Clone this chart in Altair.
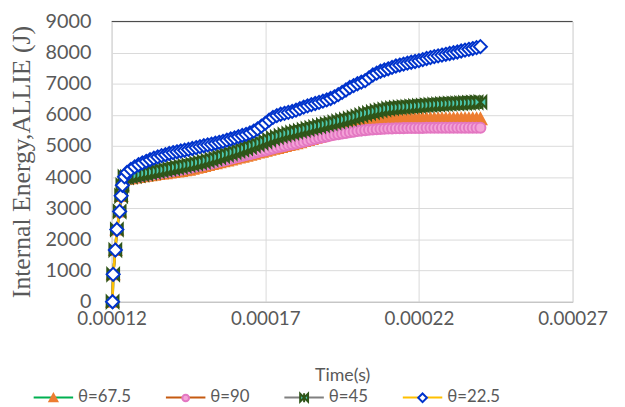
import altair as alt
import pandas as pd

series_names = ["θ=67.5", "θ=90", "θ=45", "θ=22.5"]

# time in microseconds
rise_time_us = [120.3, 120.5, 121.2, 121.7, 122.6, 123.1, 123.5, 124.2]
rise_energy = [0, 880, 1660, 2320, 2900, 3400, 3740, 4010]

grid_time_us = [
    125.0, 126.25, 127.5, 128.75, 130.0, 131.25, 132.5, 133.75,
    135.0, 136.25, 137.5, 138.75, 140.0, 141.25, 142.5, 143.75,
    145.0, 146.25, 147.5, 148.75, 150.0, 151.25, 152.5, 153.75,
    155.0, 156.25, 157.5, 158.75, 160.0, 161.25, 162.5, 163.75,
    165.0, 166.25, 167.5, 168.75, 170.0, 171.25, 172.5, 173.75,
    175.0, 176.25, 177.5, 178.75, 180.0, 181.25, 182.5, 183.75,
    185.0, 186.25, 187.5, 188.75, 190.0, 191.25, 192.5, 193.75,
    195.0, 196.25, 197.5, 198.75, 200.0, 201.25, 202.5, 203.75,
    205.0, 206.25, 207.5, 208.75, 210.0, 211.25, 212.5, 213.75,
    215.0, 216.25, 217.5, 218.75, 220.0, 221.25, 222.5, 223.75,
    225.0, 226.25, 227.5, 228.75, 230.0, 231.25, 232.5, 233.75,
    235.0, 236.25, 237.5, 238.75, 240.0]

energy_675 = [
    3950, 3970, 3990, 4010, 4030, 4045, 4060, 4080,
    4100, 4115, 4130, 4150, 4170, 4185, 4200, 4220,
    4240, 4270, 4300, 4330, 4360, 4390, 4420, 4450,
    4480, 4510, 4540, 4570, 4600, 4630, 4660, 4690,
    4720, 4755, 4790, 4820, 4850, 4880, 4910, 4940,
    4970, 5000, 5030, 5060, 5090, 5125, 5160, 5195,
    5230, 5265, 5300, 5335, 5370, 5405, 5440, 5475,
    5510, 5545, 5580, 5615, 5650, 5680, 5710, 5735,
    5760, 5780, 5800, 5815, 5830, 5835, 5840, 5845,
    5850, 5852, 5855, 5858, 5860, 5860, 5860, 5860,
    5860, 5860, 5860, 5860, 5860, 5860, 5860, 5860,
    5860, 5860, 5860, 5860, 5860]
energy_90 = [
    3960, 3980, 4000, 4020, 4040, 4060, 4080, 4100,
    4120, 4140, 4160, 4180, 4200, 4220, 4240, 4265,
    4290, 4315, 4340, 4365, 4390, 4415, 4440, 4470,
    4500, 4530, 4560, 4590, 4620, 4650, 4680, 4710,
    4740, 4770, 4800, 4830, 4860, 4890, 4920, 4950,
    4980, 5005, 5030, 5055, 5080, 5110, 5140, 5170,
    5200, 5230, 5260, 5285, 5310, 5335, 5360, 5380,
    5400, 5420, 5440, 5460, 5480, 5495, 5510, 5520,
    5530, 5540, 5550, 5555, 5560, 5565, 5570, 5572,
    5575, 5578, 5580, 5580, 5580, 5582, 5585, 5585,
    5585, 5588, 5590, 5590, 5590, 5590, 5590, 5590,
    5590, 5590, 5590, 5590, 5590]
energy_45 = [
    4000, 4020, 4040, 4065, 4090, 4115, 4140, 4165,
    4190, 4215, 4240, 4265, 4290, 4315, 4340, 4365,
    4390, 4415, 4440, 4470, 4500, 4535, 4570, 4605,
    4640, 4680, 4720, 4760, 4800, 4840, 4880, 4925,
    4970, 5015, 5060, 5105, 5150, 5200, 5250, 5290,
    5330, 5365, 5400, 5430, 5460, 5490, 5520, 5550,
    5580, 5610, 5640, 5670, 5700, 5730, 5760, 5790,
    5820, 5850, 5880, 5915, 5950, 5990, 6030, 6060,
    6090, 6120, 6150, 6175, 6200, 6215, 6230, 6240,
    6250, 6260, 6270, 6280, 6290, 6300, 6310, 6320,
    6330, 6338, 6345, 6352, 6360, 6365, 6370, 6378,
    6385, 6390, 6395, 6402, 6410]
energy_225 = [
    4150, 4250, 4330, 4400, 4460, 4510, 4560, 4610,
    4650, 4690, 4720, 4760, 4790, 4815, 4840, 4865,
    4890, 4920, 4950, 4980, 5010, 5035, 5060, 5090,
    5120, 5150, 5190, 5225, 5260, 5300, 5340, 5375,
    5420, 5480, 5550, 5640, 5730, 5830, 5920, 5975,
    6020, 6050, 6080, 6110, 6150, 6200, 6250, 6290,
    6330, 6365, 6400, 6440, 6480, 6525, 6580, 6650,
    6720, 6800, 6880, 6940, 7000, 7050, 7100, 7190,
    7280, 7340, 7400, 7440, 7480, 7525, 7570, 7600,
    7630, 7660, 7690, 7715, 7740, 7775, 7810, 7840,
    7870, 7895, 7920, 7945, 7970, 7995, 8020, 8050,
    8080, 8105, 8130, 8160, 8190]

for _s in (energy_675, energy_90, energy_45, energy_225):
    assert len(_s) == len(grid_time_us), (len(_s), len(grid_time_us))

x_ticks = [0.00012, 0.00017, 0.00022, 0.00027]
y_ticks = [0, 1000, 2000, 3000, 4000, 5000, 6000, 7000, 8000, 9000]

line_colors = ["#00b050", "#c55a11", "#808080", "#ffc000"]
marker_fill = ["#ed7d31", "#f4a3d8", "#4cc9b0", "#ffffff"]
marker_stroke = ["#ed7d31", "#e377c2", "#2f5519", "#0033cc"]
marker_stroke_w = [2.0, 2.0, 2.2, 3.0]
marker_paths = [
    "M-1,0M1,0M0,-0.2L0.2,0.17L-0.2,0.17Z",
    "M-1,0M1,0M-0.17,0A0.17,0.17 0 1,0 0.17,0A0.17,0.17 0 1,0 -0.17,0Z",
    "M-1,0M1,0M-0.2,-0.2L0.2,0.2L0.2,-0.2L-0.2,0.2ZM0,-0.23L0,0.23",
    "M-1,0M1,0M0,-0.22L0.22,0L0,0.22L-0.22,0Z",
]

rows = []
for name, vals in zip(series_names, [energy_675, energy_90, energy_45, energy_225]):
    times = rise_time_us + grid_time_us
    energies = rise_energy + vals
    for t, e in zip(times, energies):
        rows.append({"series": name, "line_series": name, "t": t * 1e-6, "e": e})
df = pd.DataFrame(rows)

FONT = "Lato"
GRAY = "#595959"

x_enc = alt.X("t:Q",
              scale=alt.Scale(domain=[0.00012, 0.00027], nice=False, zero=False),
              axis=alt.Axis(values=x_ticks, format=".5f", title="Time(s)",
                            labelFont=FONT, labelFontSize=19, labelColor=GRAY,
                            labelPadding=8, tickSize=0, labelFlush=False, labelOverlap=False,
                            titleFont=FONT, titleFontSize=18, titleFontWeight="normal",
                            titleColor=GRAY, titlePadding=39,
                            domainColor="#bfbfbf", gridColor="#d9d9d9"))
y_enc = alt.Y("e:Q",
              scale=alt.Scale(domain=[0, 9000], nice=False),
              axis=alt.Axis(values=y_ticks, format="d", title="Internal Energy,ALLIE (J)",
                            labelFont=FONT, labelFontSize=20, labelColor=GRAY,
                            labelPadding=21, tickSize=0, labelOverlap=False,
                            titleFont="Liberation Serif", titleFontSize=26,
                            titleFontWeight="normal", titleColor=GRAY, titlePadding=11,
                            domainColor="#d9d9d9", gridColor="#d9d9d9"))

legend_common = dict(orient="none", legendX=-80, legendY=360, direction="horizontal",
                     columns=4, title=None, symbolSize=1600, labelFont=FONT,
                     labelFontSize=17, labelColor=GRAY, columnPadding=31,
                     labelOffset=4, padding=0, symbolStrokeWidth=2)

lines = alt.Chart(df).mark_line(strokeWidth=2.5).encode(
    x=x_enc, y=y_enc,
    color=alt.Color("line_series:N", sort=series_names,
                    scale=alt.Scale(range=line_colors),
                    legend=alt.Legend(symbolType="stroke", **legend_common)),
)

marker_legend = alt.Legend(labelOpacity=0, **legend_common)
points = alt.Chart(df).mark_point(size=3600, opacity=1, fillOpacity=1).encode(
    x=x_enc, y=y_enc,
    shape=alt.Shape("series:N", scale=alt.Scale(domain=series_names, range=marker_paths),
                    legend=marker_legend),
    fill=alt.Fill("series:N", scale=alt.Scale(domain=series_names, range=marker_fill),
                  legend=marker_legend),
    stroke=alt.Stroke("series:N", scale=alt.Scale(domain=series_names, range=marker_stroke),
                      legend=marker_legend),
    strokeWidth=alt.StrokeWidth("series:N",
                                scale=alt.Scale(domain=series_names, range=marker_stroke_w),
                                legend=None),
)

top_df = pd.DataFrame({"e": [9000]})
top_rule = alt.Chart(top_df).mark_rule(color="#404040", strokeWidth=1).encode(y=y_enc)

chart = alt.layer(lines, points, top_rule).properties(
    width=467, height=284,
    autosize=alt.AutoSizeParams(type="none"),
    padding={"left": 105, "top": 11, "right": 45, "bottom": 104},
).configure_view(stroke=None).configure(background="white")

chart.save("out.html", embed_options={"renderer": "svg", "actions": False})
